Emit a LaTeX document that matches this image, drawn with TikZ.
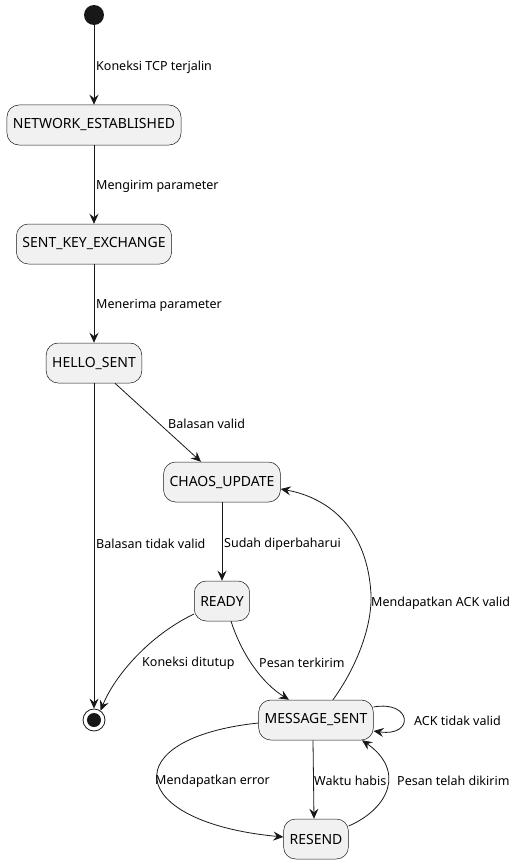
\documentclass[tikz,border=0pt]{standalone}
\usepackage{fontspec}
\setmainfont{Noto Sans}
\usetikzlibrary{arrows.meta,calc}
\definecolor{stfill}{HTML}{F1F1F1}
\definecolor{stline}{HTML}{181818}
\tikzset{
  stbox/.style={draw=stline, fill=stfill, line width=0.5pt, rounded corners=12pt,
    minimum height=40pt, inner xsep=6pt, font=\fontsize{14}{16}\selectfont},
  lbl/.style={anchor=west, inner sep=0pt, font=\fontsize{12.5}{14}\selectfont},
  arr/.style={draw=stline, line width=0.8pt, -{Stealth[length=10pt,width=9pt,inset=3.5pt]}},
}
\begin{document}
\begin{tikzpicture}[x=1pt,y=-1pt]
\useasboundingbox (0,0) rectangle (519,864);
% start / end
\node[circle, fill=stline, minimum size=20pt, inner sep=0pt] (start) at (94,15) {};
\node[circle, draw=stline, line width=0.8pt, minimum size=22pt, inner sep=0pt] (endc) at (94,720) {};
\fill[stline] (endc.center) circle (7pt);
% states
\node[stbox] (net) at (94,125) {NETWORK\_ESTABLISHED};
\node[stbox] (ske) at (94,244) {SENT\_KEY\_EXCHANGE};
\node[stbox] (hello) at (94,363) {HELLO\_SENT};
\node[stbox] (chaos) at (222,482) {CHAOS\_UPDATE};
\node[stbox] (ready) at (222,601) {READY};
\node[stbox] (msg) at (316,720) {MESSAGE\_SENT};
\node[stbox] (resend) at (316,839) {RESEND};
% edges
\draw[arr] (start) -- (net);
\draw[arr] (net) -- (ske);
\draw[arr] (ske) -- (hello);
\draw[arr] (hello.south -| 115,0) -- (chaos.north -| 201,0);
\draw[arr] (hello.south) -- (endc.north);
\draw[arr] (chaos) -- (ready);
\draw[arr] (ready.west |- 0,614) .. controls (150,635) and (115,675) .. (endc.55);
\draw[arr] (ready.south -| 231,0) .. controls (242,655) and (262,683) .. (msg.north -| 289,0);
\draw[arr] (msg.north -| 333,0) .. controls (358,665) and (372,625) .. (371,595)
   .. controls (368,530) and (330,498) .. (chaos.east |- 0,489);
\draw[arr] (msg.east |- 0,707) .. controls (412,700) and (415,737) .. (msg.east |- 0,731);
\draw[arr] (msg.west |- 0,723) .. controls (115,738) and (125,822) .. (resend.west |- 0,837);
\draw[arr] (msg.south -| 313,0) -- (resend.north -| 314,0);
\draw[arr] (resend.east |- 0,826) .. controls (390,808) and (405,770) .. (msg.south -| 362,0);
% labels
\node[lbl] (l1) at (96,67) {Koneksi TCP terjalin};
\node[lbl] (l2) at (96,186) {Mengirim parameter};
\node[lbl] (l3) at (96,305) {Menerima parameter};
\node[lbl] (l4) at (168,424) {Balasan valid};
\node[lbl] (l5) at (96,544) {Balasan tidak valid};
\node[lbl] (l6) at (224,544) {Sudah diperbaharui};
\node[lbl] (l7) at (371,603) {Mendapatkan ACK valid};
\node[lbl] (l8) at (142,663) {Koneksi ditutup};
\node[lbl] (l9) at (259,663) {Pesan terkirim};
\node[lbl] (l10) at (414,721) {ACK tidak valid};
\node[lbl] (l11) at (155,781) {Mendapatkan error};
\node[lbl] (l12) at (314,781) {Waktu habis};
\node[lbl] (l13) at (397,781) {Pesan telah dikirim};
\end{tikzpicture}
\end{document}
